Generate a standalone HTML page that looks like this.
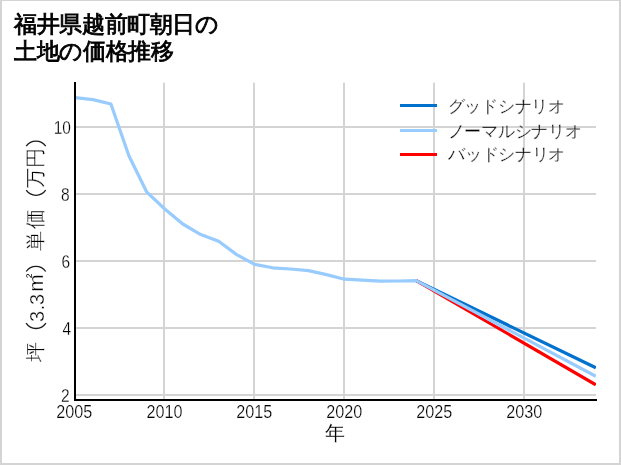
<!DOCTYPE html>
<html><head><meta charset="utf-8">
<style>
html,body{margin:0;padding:0;background:#fff;}
body{width:621px;height:465px;position:relative;overflow:hidden;-webkit-font-smoothing:antialiased;font-family:"Liberation Sans",sans-serif;}
#frame{position:absolute;left:0;top:0;width:621px;height:465px;box-sizing:border-box;border:2px solid #d4d4d4;border-top-width:1px;}
svg{position:absolute;left:0;top:0;}
svg{will-change:transform;}
svg text{font-family:"Liberation Sans",sans-serif;}
</style></head><body>
<div id="frame"></div>
<svg width="621" height="465" viewBox="0 0 621 465">
  <g font-size="23" fill="#000" letter-spacing="-0.36" stroke="#000" stroke-width="0.85">
    <text x="14" y="32">福井県越前町朝日の</text>
    <text x="14" y="59">土地の価格推移</text>
  </g>
  <!-- grid -->
  <g stroke="#d4d4d4" stroke-width="2" fill="none">
    <line x1="164" y1="82.8" x2="164" y2="399"/>
    <line x1="254" y1="82.8" x2="254" y2="399"/>
    <line x1="344" y1="82.8" x2="344" y2="399"/>
    <line x1="434" y1="82.8" x2="434" y2="399"/>
    <line x1="524" y1="82.8" x2="524" y2="399"/>
    <line x1="75" y1="127" x2="596" y2="127"/>
    <line x1="75" y1="194" x2="596" y2="194"/>
    <line x1="75" y1="261" x2="596" y2="261"/>
    <line x1="75" y1="328" x2="596" y2="328"/>
    <line x1="75" y1="395" x2="596" y2="395"/>
  </g>
  <defs><clipPath id="c"><rect x="75" y="82" width="521" height="318"/></clipPath></defs>
  <g clip-path="url(#c)" fill="none" stroke-width="3.2" stroke-linejoin="round">
    <polyline stroke="#0071cc" points="416.24,280.6 595.8,367.8"/>
    <polyline stroke="#ff0000" points="416.24,280.6 595.8,384.8"/>
    <polyline stroke="#98cbfe" points="74,97.6 92.96,99.6 110.92,104 128.88,155.7 146.84,192.2 164.80,209 182.76,224 200.72,234.6 218.68,241.2 236.64,254.6 254.60,264.4 272.56,267.8 290.52,269 308.48,270.6 326.44,274.6 344.40,279.2 362.36,280.2 380.32,281.1 398.28,281 416.24,280.6 595.8,376.3"/>
  </g>
  <!-- spines -->
  <g stroke="#000" stroke-width="2">
    <line x1="75" y1="82" x2="75" y2="401"/>
    <line x1="74" y1="400" x2="597" y2="400"/>
  </g>
  <!-- y tick labels -->
  <g font-size="18" fill="#000" text-anchor="end" stroke="#fff" stroke-width="0.25">
    <text transform="translate(70.9,134) scale(0.86,1)">10</text>
    <text transform="translate(69.7,201) scale(0.86,1)">8</text>
    <text transform="translate(70.1,268) scale(0.86,1)">6</text>
    <text transform="translate(71.1,335) scale(0.86,1)">4</text>
    <text transform="translate(69.7,402) scale(0.86,1)">2</text>
  </g>
  <g font-size="18" fill="#000" text-anchor="middle" stroke="#fff" stroke-width="0.25">
    <text transform="translate(74.3,418) scale(0.9,1)">2005</text>
    <text transform="translate(164.4,418) scale(0.9,1)">2010</text>
    <text transform="translate(254.2,418) scale(0.9,1)">2015</text>
    <text transform="translate(344.2,418) scale(0.9,1)">2020</text>
    <text transform="translate(434.2,418) scale(0.9,1)">2025</text>
    <text transform="translate(524.2,418) scale(0.9,1)">2030</text>
  </g>
  <text x="335" y="440" font-size="20" fill="#000" stroke="#fff" stroke-width="0.1" text-anchor="middle">年</text>
  <g font-size="20" fill="#000" text-anchor="middle" stroke="#fff" stroke-width="0.3">
    <title>坪（3.3㎡）単価（万円）</title>
    <text transform="translate(41.7,352.3) rotate(-90)">坪</text>
    <text transform="translate(43.7,299.5) rotate(-90)">3</text>
    <text transform="translate(44.3,307.5) rotate(-90)">.</text>
    <text transform="translate(43.7,316.5) rotate(-90)">3</text>
    <text transform="translate(42.9,282.9) rotate(-90)" font-size="21">m</text>
    <text transform="translate(35.1,275.9) rotate(-90)" font-size="13" stroke-width="0">²</text>
    <text transform="translate(42,241.3) rotate(-90)">単</text>
    <text transform="translate(42,219.0) rotate(-90)">価</text>
    <text transform="translate(41.7,178.3) rotate(-90)">万</text>
    <text transform="translate(41.7,158.4) rotate(-90)">円</text>
  </g>
  <g fill="none" stroke="#1a1a1a" stroke-width="1.3">
    <path d="M26.2,146.2 A11.9,11.9 0 0 1 45.7,146.2"/>
    <path d="M26.2,190.2 A11.9,11.9 0 0 0 45.7,190.2"/>
    <path d="M26.2,271.5 A11.9,11.9 0 0 1 45.7,271.5"/>
    <path d="M26.1,323.2 A11.9,11.9 0 0 0 45.9,323.2"/>
  </g>
  <!-- legend -->
  <g stroke-width="3">
    <line x1="400" y1="105.4" x2="437" y2="105.4" stroke="#0071cc"/>
    <line x1="400" y1="130.5" x2="437" y2="130.5" stroke="#98cbfe"/>
    <line x1="400" y1="154.4" x2="437" y2="154.4" stroke="#ff0000"/>
  </g>
  <mask id="lm" maskUnits="userSpaceOnUse" x="440" y="90" width="160" height="80">
    <g font-size="17" fill="#fff" letter-spacing="-0.3" stroke="#000" stroke-width="0.4">
      <text x="447.8" y="112">グッドシナリオ</text>
      <text x="447.8" y="136.5">ノーマルシナリオ</text>
      <text x="448.3" y="160.4">バッドシナリオ</text>
    </g>
  </mask>
  <rect x="440" y="90" width="160" height="80" fill="#000" mask="url(#lm)"/>
</svg>
</body></html>
